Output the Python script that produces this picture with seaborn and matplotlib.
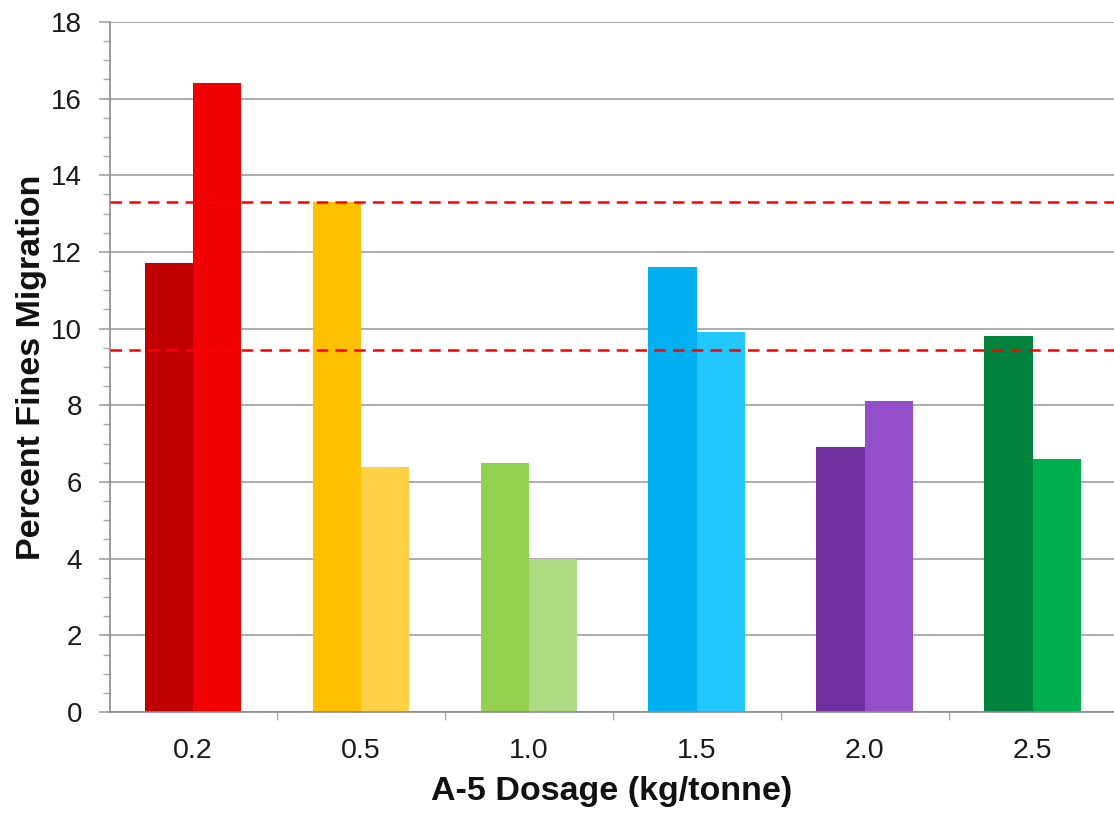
import matplotlib
matplotlib.use("Agg")
import matplotlib.pyplot as plt
import seaborn as sns
import pandas as pd
from matplotlib.ticker import MultipleLocator, FixedLocator

# Data
dosages = ["0.2", "0.5", "1.0", "1.5", "2.0", "2.5"]
series_a = [11.7, 13.3, 6.5, 11.6, 6.9, 9.8]
series_b = [16.4, 6.4, 4.0, 9.9, 8.1, 6.6]
reference_levels = [13.3, 9.45]

colors_a = ["#C00000", "#FFC000", "#92D050", "#00B0F0", "#7030A0", "#00843D"]
colors_b = ["#F00000", "#FFD145", "#ADDB82", "#22C7FF", "#934FCA", "#00B050"]

df = pd.DataFrame({
    "dosage": dosages * 2,
    "value": series_a + series_b,
    "series": ["A"] * len(dosages) + ["B"] * len(dosages),
})

sns.set_theme(style="white")
plt.rcParams["font.family"] = ["Liberation Sans", "DejaVu Sans"]

fig = plt.figure(figsize=(11.14, 8.14), dpi=100)
ax = fig.add_axes([0.0987, 0.1253, 0.9013, 0.8477])

sns.barplot(data=df, x="dosage", y="value", hue="series", order=dosages,
            width=0.576, dodge=True, legend=False, ax=ax, saturation=1,
            linewidth=0, zorder=2)

for container, cols in zip(ax.containers, [colors_a, colors_b]):
    for bar, c in zip(container, cols):
        bar.set_facecolor(c)
        bar.set_edgecolor("none")

# Reference levels
for lvl in reference_levels:
    ax.axhline(lvl, color="#FF0000", lw=1.8, linestyle=(0, (4.6, 2.9)), zorder=4)

ax.set_ylim(0, 18)
ax.set_xlim(-0.495, 5.485)
ax.yaxis.set_major_locator(MultipleLocator(2))
ax.yaxis.set_minor_locator(MultipleLocator(0.5))
ax.xaxis.set_minor_locator(FixedLocator([0.5, 1.5, 2.5, 3.5, 4.5]))

ax.grid(axis="y", which="major", color="#969696", lw=1.1, zorder=0)
ax.set_axisbelow(True)

for side in ["top", "right"]:
    ax.spines[side].set_visible(False)
for side in ["left", "bottom"]:
    ax.spines[side].set_color("#8C8C8C")
    ax.spines[side].set_linewidth(1.2)

ax.tick_params(axis="y", which="major", direction="out", length=8, width=1.1,
               color="#9A9A9A", labelsize=20, labelcolor="#1A1A1A", pad=12, left=True)
ax.tick_params(axis="y", which="minor", direction="out", length=5, width=1.0,
               color="#AAAAAA", left=True)
ax.tick_params(axis="x", which="major", length=0, labelsize=20.5,
               labelcolor="#1A1A1A", pad=19)
ax.tick_params(axis="x", which="minor", direction="out", length=6, width=1.0,
               color="#AAAAAA", bottom=True)

ax.set_xlabel("A-5 Dosage (kg/tonne)", fontsize=24.5, fontweight="bold",
              color="#111111", labelpad=8)
ax.set_ylabel("Percent Fines Migration", fontsize=24.5, fontweight="bold",
              color="#111111", labelpad=3)

fig.savefig("out.png", dpi=100, facecolor="white")
